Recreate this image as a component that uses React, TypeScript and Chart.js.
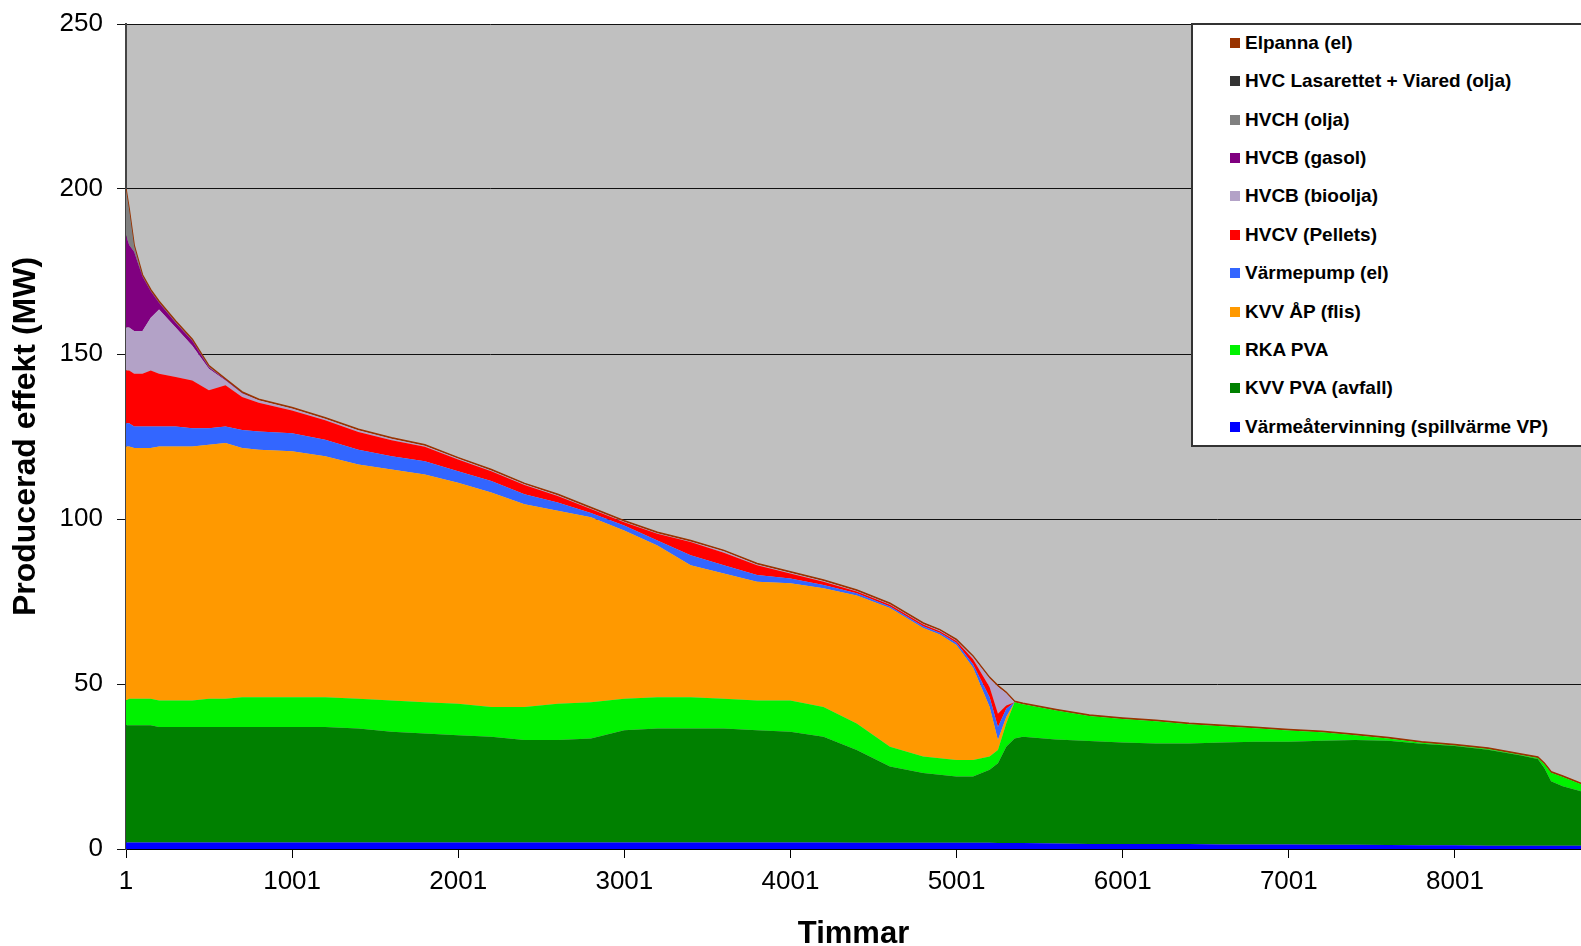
import React, { useEffect, useRef } from 'react';
import { Chart, registerables } from 'chart.js';

Chart.register(...registerables);

// Sampled hours of the sorted duration curve (x values)
const hours = [1, 20, 50, 100, 150, 200, 300, 400, 500, 600, 700, 800, 1000, 1200, 1400, 1600, 1800, 2000, 2200, 2400, 2600, 2800, 3000, 3200, 3400, 3600, 3800, 4000, 4200, 4400, 4600, 4800, 4900, 5000, 5100, 5200, 5250, 5300, 5350, 5400, 5600, 5800, 6000, 6200, 6400, 6600, 6800, 7000, 7200, 7400, 7600, 7800, 8000, 8200, 8400, 8500, 8540, 8580, 8650, 8760];

// Layer values (MW), bottom to top
const varmeatervinning = [2, 2, 2, 2, 2, 2, 2, 2, 2, 2, 2, 2, 2, 2, 2, 2, 2, 2, 2, 2, 2, 2, 2, 2, 2, 2, 2, 2, 2, 1.9, 1.9, 1.9, 1.9, 1.9, 1.9, 1.9, 1.8, 1.8, 1.8, 1.8, 1.7, 1.5, 1.5, 1.5, 1.5, 1.4, 1.4, 1.4, 1.3, 1.3, 1.2, 1.1, 1.1, 1.0, 1.0, 1.0, 1.0, 1.0, 1.0, 1.0];
const kvvPva = [35.5, 35.5, 35.5, 35.5, 35.5, 35, 35, 35, 35, 35, 35, 35, 35, 35, 34.5, 33.5, 33, 32.5, 32, 31, 31, 31.5, 34, 34.5, 34.5, 34.5, 34, 33.5, 32, 28.1, 23.1, 21.1, 20.6, 20.1, 20.1, 22.1, 24.2, 29.2, 31.7, 32.2, 31.5, 31.2, 30.8, 30.5, 30.5, 30.9, 31.1, 31.1, 31.5, 31.7, 31.6, 30.8, 30.1, 29.1, 27.3, 26.3, 23.5, 19.5, 18, 16.5];
const rkaPva = [7.5, 8, 8, 8, 8, 8, 8, 8, 8.5, 8.5, 9, 9, 9, 9, 9, 9.5, 9.5, 9.5, 9, 10, 11, 11, 9.5, 9.5, 9.5, 9, 9, 9.5, 9, 8, 6, 5, 5, 5, 5, 4, 4, 7, 11, 9.9, 8.8, 7.6, 7.1, 6.7, 5.8, 4.9, 4.1, 3.4, 2.6, 1.5, 0.7, 0.3, 0.2, 0.2, 0.2, 0.3, 1.2, 2.6, 2.8, 2.1];
const kvvAp = [77, 76.5, 76, 76, 76, 77, 77, 77, 77, 77.5, 75.5, 75, 74.5, 73, 71, 70, 69, 67, 65, 61.5, 58.5, 56, 51, 46, 40, 38, 36, 35.5, 36, 38.8, 42, 39, 37.5, 34.8, 28, 15, 3, 2, 0, 0, 0, 0, 0, 0, 0, 0, 0, 0, 0, 0, 0, 0, 0, 0, 0, 0, 0, 0, 0, 0];
const varmepump = [7, 7, 6.5, 6.5, 6.5, 6, 6, 5.5, 5, 5, 5.5, 5.5, 5.5, 5, 4.5, 4, 4, 3.5, 3.5, 3, 2.5, 1.3, 1.5, 1.5, 3, 2.5, 2, 1.5, 1, 0.7, 0.5, 0.5, 0.5, 0.7, 1, 3, 4, 2.5, 0, 0, 0, 0, 0, 0, 0, 0, 0, 0, 0, 0, 0, 0, 0, 0, 0, 0, 0, 0, 0, 0];
const hvcvPellets = [16, 16, 16, 16, 17, 16, 15, 14.5, 11.5, 12.5, 10, 8.7, 6.9, 5.9, 5.4, 4.9, 4.4, 3.5, 3, 2.8, 2, 1.2, 1, 2, 4, 3.8, 3, 1.5, 1, 0.5, 0.5, 0.5, 0.5, 0.5, 1.5, 3, 4, 1, 0, 0, 0, 0, 0, 0, 0, 0, 0, 0, 0, 0, 0, 0, 0, 0, 0, 0, 0, 0, 0, 0];
const hvcbBioolja = [13, 13, 13, 13, 16, 19.5, 15, 10.5, 6.5, 1.5, 1, 0.8, 0.6, 0.5, 0.5, 0.4, 0.3, 0.3, 0.2, 0.2, 0.2, 0.2, 0.2, 0.2, 0.2, 0.4, 0.2, 0.2, 0.2, 0.2, 0.2, 0.2, 0.2, 0.2, 0.7, 2.7, 8.2, 3.7, 0, 0, 0, 0, 0, 0, 0, 0, 0, 0, 0, 0, 0, 0, 0, 0, 0, 0, 0, 0, 0, 0];
const hvcbGasol = [28, 25, 24, 16.5, 8, 2, 1.5, 1.5, 0.5, 0.2, 0.2, 0, 0, 0, 0, 0, 0, 0, 0, 0, 0, 0, 0, 0, 0, 0, 0, 0, 0, 0, 0, 0, 0, 0, 0, 0, 0, 0, 0, 0, 0, 0, 0, 0, 0, 0, 0, 0, 0, 0, 0, 0, 0, 0, 0, 0, 0, 0, 0, 0];
const hvchOlja = [13.7, 10.7, 1.7, 0.2, 0.2, 0.2, 0.2, 0.2, 0.2, 0, 0, 0, 0, 0, 0, 0, 0, 0, 0, 0, 0, 0, 0, 0, 0, 0, 0, 0, 0, 0, 0, 0, 0, 0, 0, 0, 0, 0, 0, 0, 0, 0, 0, 0, 0, 0, 0, 0, 0, 0, 0, 0, 0, 0, 0, 0, 0, 0, 0, 0];
const hvcLasarettet = [0, 0, 0, 0, 0, 0, 0, 0, 0, 0, 0, 0, 0, 0, 0, 0, 0, 0, 0, 0, 0, 0, 0, 0, 0, 0, 0, 0, 0, 0, 0, 0, 0, 0, 0, 0, 0, 0, 0, 0, 0, 0, 0, 0, 0, 0, 0, 0, 0, 0, 0, 0, 0, 0, 0, 0, 0, 0, 0, 0];
const elpanna = [0.3, 0.3, 0.3, 0.3, 0.3, 0.3, 0.3, 0.3, 0.3, 0.3, 0.3, 0.3, 0.3, 0.3, 0.3, 0.3, 0.3, 0.3, 0.3, 0.3, 0.3, 0.3, 0.3, 0.3, 0.3, 0.3, 0.3, 0.3, 0.3, 0.3, 0.3, 0.3, 0.3, 0.3, 0.3, 0.3, 0.3, 0.3, 0.3, 0.3, 0.3, 0.3, 0.3, 0.3, 0.3, 0.3, 0.3, 0.3, 0.3, 0.3, 0.3, 0.3, 0.3, 0.3, 0.3, 0.3, 0.3, 0.3, 0.3, 0.3];

const xTickValues = [1, 1001, 2001, 3001, 4001, 5001, 6001, 7001, 8001];
const yTickStep = 50;
const yMax = 250;

// Series, bottom of stack first
const seriesNames = [
  'Värmeåtervinning (spillvärme VP)',
  'KVV PVA (avfall)',
  'RKA PVA',
  'KVV ÅP (flis)',
  'Värmepump (el)',
  'HVCV (Pellets)',
  'HVCB (bioolja)',
  'HVCB (gasol)',
  'HVCH (olja)',
  'HVC Lasarettet + Viared (olja)',
  'Elpanna (el)',
];
const seriesValues = [varmeatervinning, kvvPva, rkaPva, kvvAp, varmepump, hvcvPellets, hvcbBioolja, hvcbGasol, hvchOlja, hvcLasarettet, elpanna];
const seriesColors = ['#0000FF', '#008000', '#00F200', '#FF9900', '#3366FF', '#FF0000', '#B3A2C7', '#800080', '#808080', '#333333', '#993300'];

const FONT = '"Liberation Sans", Arial, sans-serif';

const plotBg = {
  id: 'plotBg',
  beforeDraw(chart: any) {
    const { ctx, chartArea } = chart;
    if (!chartArea) return;
    ctx.save();
    ctx.fillStyle = '#C0C0C0';
    ctx.fillRect(chartArea.left, chartArea.top, chartArea.right - chartArea.left, chartArea.bottom - chartArea.top);
    ctx.restore();
  },
};

export default function App() {
  const canvasRef = useRef<HTMLCanvasElement | null>(null);

  useEffect(() => {
    const canvas = canvasRef.current;
    if (!canvas) return;
    const datasets = seriesNames.map((name, si) => {
      const isTop = si === seriesNames.length - 1;
      return {
        label: name,
        data: hours.map((h, i) => ({ x: h, y: seriesValues[si][i] })),
        backgroundColor: seriesColors[si],
        borderColor: isTop ? '#993300' : 'rgba(0,0,0,0)',
        borderWidth: isTop ? 1.5 : 0,
        fill: si === 0 ? 'origin' : '-1',
        pointRadius: 0,
        tension: 0,
      };
    });

    const chart = new Chart(canvas, {
      type: 'line',
      data: { datasets },
      plugins: [plotBg],
      options: {
        animation: false,
        responsive: false,
        events: [],
        layout: { padding: { top: 24, left: 0, right: 0, bottom: 0 } },
        plugins: {
          legend: { display: false },
          tooltip: { enabled: false },
          filler: { propagate: false },
        },
        scales: {
          x: {
            type: 'linear',
            min: 1,
            max: 8760,
            afterBuildTicks: (scale: any) => {
              scale.ticks = xTickValues.map((v) => ({ value: v }));
            },
            afterFit: (scale: any) => {
              scale.height = 97;
            },
            ticks: {
              autoSkip: false,
              maxRotation: 0,
              padding: 8,
              color: '#000',
              font: { family: FONT, size: 26 },
              callback: (v: any) => String(v),
            },
            grid: { drawOnChartArea: false, drawTicks: true, tickLength: 9, color: '#000', lineWidth: 1 },
            border: { display: true, color: '#000', width: 1 },
            title: {
              display: true,
              text: 'Timmar',
              color: '#000',
              font: { family: FONT, size: 31, weight: 'bold', lineHeight: 1 },
              padding: { top: 0, bottom: -4 },
            },
          },
          y: {
            stacked: true,
            min: 0,
            max: yMax,
            afterFit: (scale: any) => {
              scale.width = 126;
              scale.paddingTop = 0;
              scale.paddingBottom = 0;
            },
            ticks: {
              stepSize: yTickStep,
              padding: 14,
              color: '#000',
              font: { family: FONT, size: 26 },
            },
            grid: { color: '#111', lineWidth: 1, tickLength: 9, drawTicks: true },
            border: { display: true, color: '#444', width: 2 },
            title: {
              display: true,
              text: 'Producerad effekt (MW)',
              color: '#000',
              font: { family: FONT, size: 32, weight: 'bold', lineHeight: 1 },
              padding: { top: 10, bottom: 0 },
            },
          },
        },
      } as any,
    });
    return () => chart.destroy();
  }, []);

  const legendItems = seriesNames.map((n, i) => ({ name: n, color: seriesColors[i] })).reverse();

  return (
    <div style={{ position: 'fixed', left: 0, top: 0, width: 1581, height: 946, overflow: 'hidden', background: '#fff' }}>
      <canvas ref={canvasRef} width={1581} height={946} style={{ position: 'absolute', left: 0, top: 0, width: 1581, height: 946 }} />
      <div
        style={{
          position: 'absolute',
          left: 1191,
          top: 23,
          width: 400,
          height: 424,
          boxSizing: 'border-box',
          border: '2px solid #333',
          background: '#fff',
        }}
      >
        {legendItems.map((it, i) => (
          <div
            key={it.name}
            style={{
              position: 'absolute',
              left: 0,
              top: 17.7 + 38.4 * i - 12,
              height: 24,
              width: 390,
            }}
          >
            <div style={{ position: 'absolute', left: 37, top: 7, width: 10, height: 10, background: it.color }} />
            <div
              style={{
                position: 'absolute',
                left: 52,
                top: 0,
                lineHeight: '24px',
                fontFamily: FONT,
                fontWeight: 'bold',
                fontSize: 19,
                color: '#000',
                whiteSpace: 'nowrap',
              }}
            >
              {it.name}
            </div>
          </div>
        ))}
      </div>
    </div>
  );
}
